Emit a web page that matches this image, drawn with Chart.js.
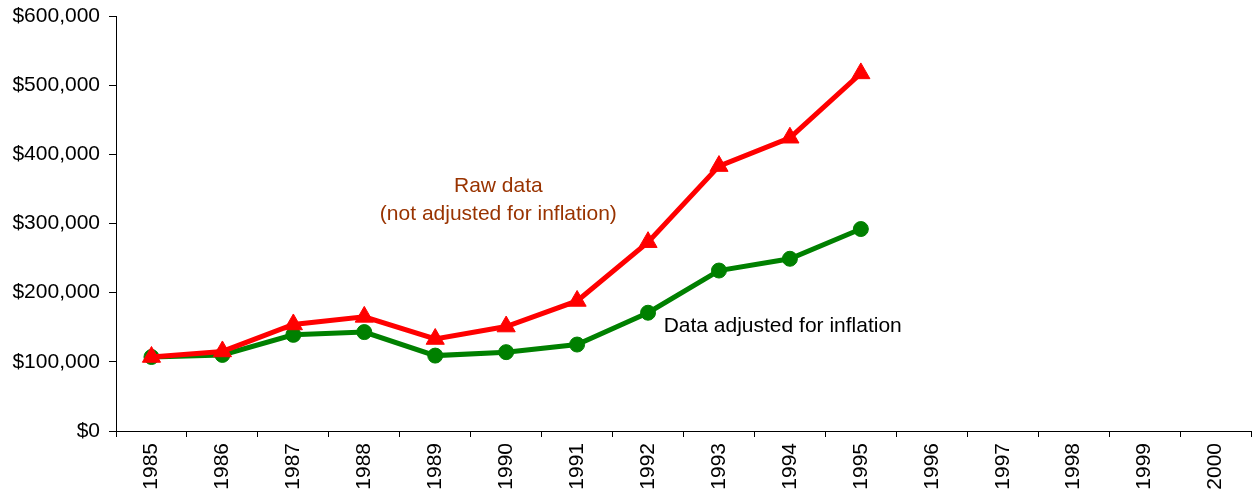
<!DOCTYPE html>
<html>
<head>
<meta charset="utf-8">
<script src="https://cdn.jsdelivr.net/npm/chart.js@4/dist/chart.umd.min.js"></script>
<style>
  html, body { margin: 0; padding: 0; background: #fff; }
  #wrap { width: 1252px; height: 495px; position: relative; }
</style>
</head>
<body>
<div id="wrap"><canvas id="c"></canvas></div>
<script>
const years = ['1985','1986','1987','1988','1989','1990','1991','1992','1993','1994','1995','1996','1997','1998','1999','2000'];
const rawData = [107000, 115000, 154000, 165000, 133000, 151000, 188000, 273000, 383000, 424000, 517000, null, null, null, null, null];
const adjustedData = [107000, 110000, 139000, 143000, 109000, 114000, 125000, 171000, 232000, 249000, 292000, null, null, null, null, null];
const yTicks = [0, 100000, 200000, 300000, 400000, 500000, 600000];
const rawLabelLines = ['Raw data', '(not adjusted for inflation)'];
const adjustedLabel = 'Data adjusted for inflation';

const FONT = '"Liberation Sans", Arial, sans-serif';

const annotations = {
  id: 'annotations',
  afterDatasetsDraw(chart) {
    const { ctx, scales: { x, y } } = chart;
    ctx.save();
    ctx.font = '21px ' + FONT;
    ctx.textBaseline = 'middle';
    ctx.fillStyle = '#993300';
    ctx.textAlign = 'center';
    const cx = x.getPixelForValue(4.89);
    ctx.fillText(rawLabelLines[0], cx, y.getPixelForValue(354500));
    ctx.fillText(rawLabelLines[1], cx, y.getPixelForValue(314000));
    ctx.fillStyle = '#000';
    ctx.textAlign = 'left';
    ctx.fillText(adjustedLabel, x.getPixelForValue(7.22), y.getPixelForValue(152000));
    ctx.restore();
  }
};

new Chart(document.getElementById('c'), {
  type: 'line',
  data: {
    labels: years,
    datasets: [
      {
        label: 'Raw data',
        data: rawData,
        borderColor: '#FF0000',
        backgroundColor: '#FF0000',
        borderWidth: 5,
        pointStyle: 'triangle',
        pointRadius: 10.5,
        pointBorderWidth: 1,
        tension: 0,
        spanGaps: false
      },
      {
        label: 'Data adjusted for inflation',
        data: adjustedData,
        borderColor: '#008000',
        backgroundColor: '#008000',
        borderWidth: 5,
        pointStyle: 'circle',
        pointRadius: 7.5,
        pointBorderWidth: 1,
        tension: 0,
        spanGaps: false
      }
    ]
  },
  options: {
    responsive: true,
    maintainAspectRatio: false,
    animation: false,
    layout: { autoPadding: false, padding: { top: 16, right: 1, left: 0, bottom: 0 } },
    plugins: {
      legend: { display: false },
      tooltip: { enabled: false }
    },
    scales: {
      x: {
        type: 'category',
        offset: true,
        grid: {
          display: true,
          offset: true,
          drawOnChartArea: false,
          drawTicks: true,
          tickLength: 6,
          color: '#000',
          lineWidth: 1
        },
        border: { display: true, color: '#000', width: 1 },
        ticks: {
          color: '#000',
          font: { family: FONT, size: 21 },
          minRotation: 90,
          maxRotation: 90,
          autoSkip: false,
          padding: 6
        },
        afterFit(scale) {
          scale.height = 64;
          scale.paddingLeft = 0;
          scale.paddingRight = 0;
        }
      },
      y: {
        min: 0,
        max: 600000,
        afterBuildTicks(scale) { scale.ticks = yTicks.map(v => ({ value: v })); },
        grid: {
          display: true,
          drawOnChartArea: false,
          drawTicks: true,
          tickLength: 7,
          color: '#000',
          lineWidth: 1
        },
        border: { display: true, color: '#000', width: 1 },
        ticks: {
          color: '#000',
          font: { family: FONT, size: 21 },
          padding: 9,
          callback: (v) => '$' + Number(v).toLocaleString('en-US')
        },
        afterFit(scale) {
          scale.width = 116;
          scale.paddingTop = 0;
          scale.paddingBottom = 0;
        }
      }
    }
  },
  plugins: [annotations]
});
</script>
</body>
</html>
